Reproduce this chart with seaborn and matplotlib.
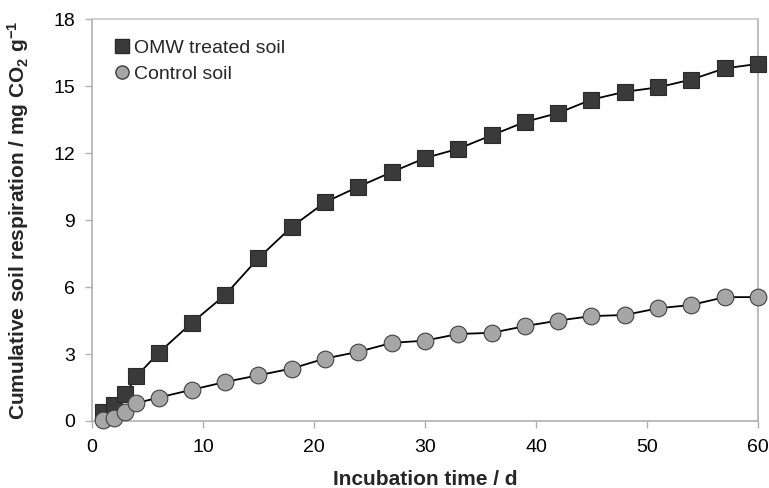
import matplotlib
matplotlib.use("Agg")
import matplotlib.pyplot as plt
import seaborn as sns
import pandas as pd
from matplotlib.lines import Line2D

days = [1, 2, 3, 4, 6, 9, 12, 15, 18, 21, 24, 27, 30, 33, 36, 39, 42, 45, 48, 51, 54, 57, 60]
omw = [0.4, 0.7, 1.2, 2.0, 3.05, 4.4, 5.65, 7.3, 8.7, 9.8, 10.5, 11.15, 11.78, 12.2, 12.8,
       13.4, 13.8, 14.4, 14.75, 14.95, 15.3, 15.8, 16.0]
control = [0.05, 0.12, 0.4, 0.8, 1.05, 1.4, 1.75, 2.05, 2.35, 2.8, 3.1, 3.5, 3.6, 3.9, 3.95,
           4.25, 4.5, 4.7, 4.75, 5.05, 5.2, 5.55, 5.55]
series_names = ["OMW treated soil", "Control soil"]
xticks = [0, 10, 20, 30, 40, 50, 60]
yticks = [0, 3, 6, 9, 12, 15, 18]

sns.set_theme(style="white")
plt.rcParams['font.family'] = ['Liberation Sans', 'DejaVu Sans']
plt.rcParams['mathtext.fontset'] = 'custom'
plt.rcParams['mathtext.rm'] = 'Liberation Sans:bold'
plt.rcParams['mathtext.bf'] = 'Liberation Sans:bold'
plt.rcParams['mathtext.it'] = 'Liberation Sans:bold'

df = pd.DataFrame({"day": days, "omw": omw, "control": control})

fig = plt.figure(figsize=(7.69, 4.88), dpi=100)
ax = fig.add_axes([0.1196, 0.1373, 0.8661, 0.8232])

sns.lineplot(data=df, x="day", y="omw", ax=ax, color="black", linewidth=1.3,
             marker="s", markersize=11.5, markerfacecolor="#3a3a3a", markeredgecolor="#2a2a2a",
             markeredgewidth=0.8, zorder=3, clip_on=False)
sns.lineplot(data=df, x="day", y="control", ax=ax, color="black", linewidth=1.3,
             marker="o", markersize=12, markerfacecolor="#a6a6a6", markeredgecolor="#404040",
             markeredgewidth=0.8, zorder=3, clip_on=False)

ax.set_xlim(0, 60)
ax.set_ylim(0, 18)
ax.set_xticks(xticks)
ax.set_yticks(yticks)
ax.tick_params(axis='both', labelsize=14, labelcolor='black', color='#b0b0b0', length=5,
               width=1, direction='out', bottom=True, left=True)
ax.tick_params(axis='y', pad=7)
ax.tick_params(axis='x', pad=8)
for s in ['left', 'bottom', 'right']:
    ax.spines[s].set_color('#b0b0b0')
    ax.spines[s].set_linewidth(1.2)
ax.spines['top'].set_color('#c8c8c8')
ax.spines['top'].set_linewidth(1.2)

ax.set_xlabel("Incubation time / d", fontsize=15, fontweight='bold', labelpad=10)
ax.set_ylabel(r"Cumulative soil respiration / mg CO$_2$ g$^{-1}$", fontsize=15,
              fontweight='bold', labelpad=16)

handles = [
    Line2D([], [], linestyle='none', marker='s', markersize=9.5, markerfacecolor="#3a3a3a",
           markeredgecolor="#2a2a2a"),
    Line2D([], [], linestyle='none', marker='o', markersize=9.5, markerfacecolor="#a6a6a6",
           markeredgecolor="#404040"),
]
ax.legend(handles, series_names, loc='upper left', frameon=False, fontsize=14,
          handletextpad=0.1, handlelength=1.0, borderaxespad=0.3, bbox_to_anchor=(0.01, 0.985),
          labelspacing=0.45)

fig.savefig("out.png", dpi=100)
